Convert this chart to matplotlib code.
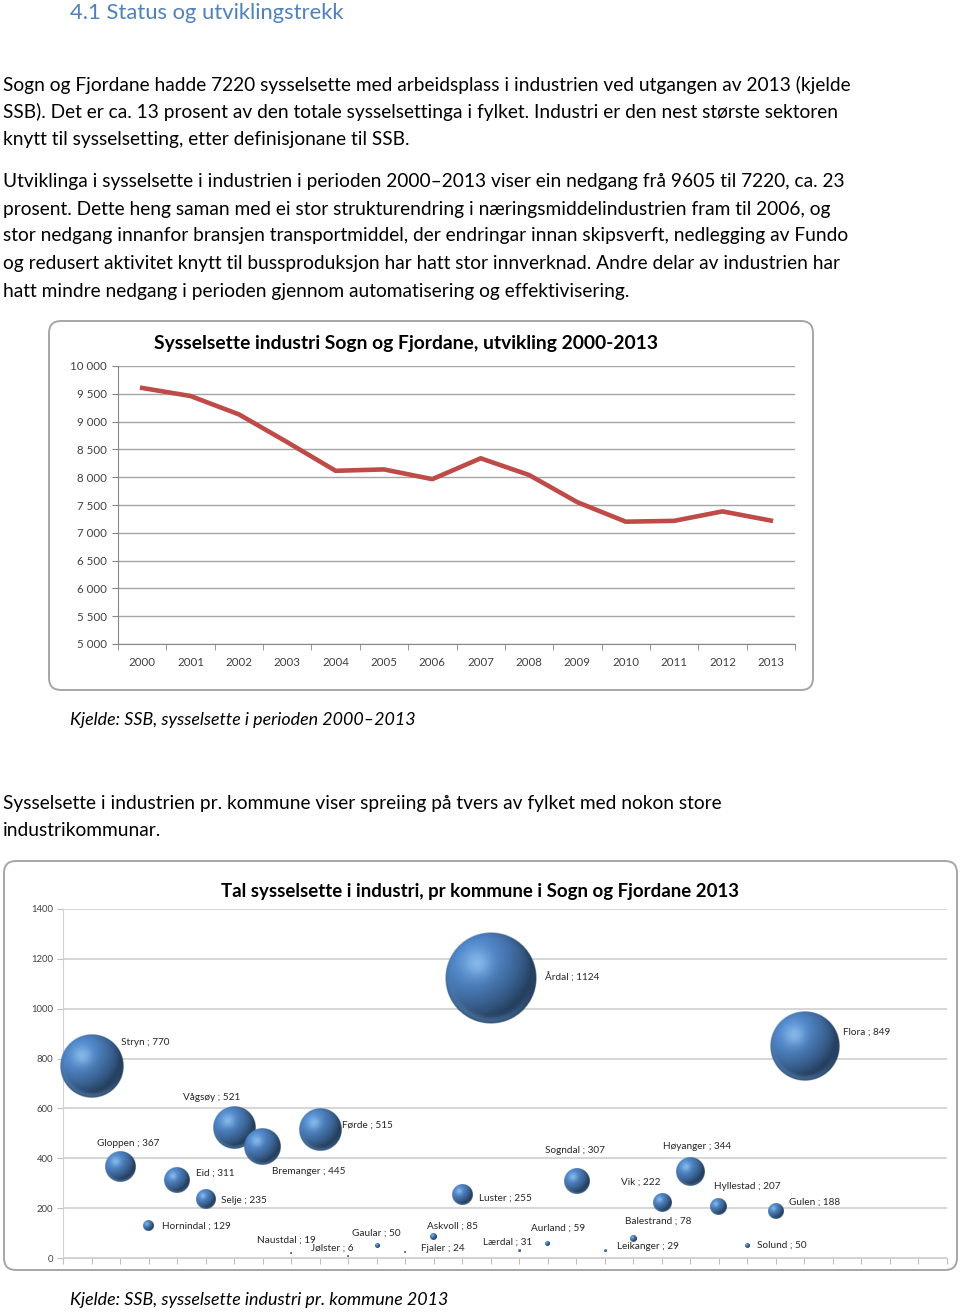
import numpy as np
import matplotlib.pyplot as plt
from matplotlib.patches import FancyBboxPatch
from matplotlib.ticker import FuncFormatter
from matplotlib.colors import to_rgb

plt.rcParams['font.family'] = ['Lato', 'DejaVu Sans']

# ---- data: line chart ----
years = ['2000', '2001', '2002', '2003', '2004', '2005', '2006',
         '2007', '2008', '2009', '2010', '2011', '2012', '2013']
employed = [9605, 9460, 9130, 8630, 8115, 8140, 7965,
            8340, 8040, 7550, 7200, 7215, 7385, 7220]

# ---- data: bubble chart (x = order on axis, y = employed = bubble size) ----
kommune = ['Stryn', 'Gloppen', 'Hornindal', 'Eid', 'Selje', 'Vågsøy', 'Bremanger',
           'Naustdal', 'Førde', 'Jølster', 'Gaular', 'Fjaler', 'Askvoll', 'Luster',
           'Årdal', 'Lærdal', 'Aurland', 'Sogndal', 'Leikanger', 'Balestrand',
           'Vik', 'Høyanger', 'Hyllestad', 'Solund', 'Gulen', 'Flora']
kommune_pos = list(range(1, 27))
kommune_emp = [770, 367, 129, 311, 235, 521, 445, 19, 515, 6, 50, 24, 85, 255,
               1124, 31, 59, 307, 29, 78, 222, 344, 207, 50, 188, 849]

# label offsets in pixels from bubble centre (left edge of text, vertical centre)
label_off = [(29, 24), (-23, 23), (13, 0), (19, 7), (15, -1), (-51, 31), (9, -24),
             (-34, 13), (22, 4), (-37, 8), (-25, 12), (16, 4), (-7, 11), (17, -4),
             (54, 0), (-36, 8), (-17, 15), (-31, 31), (12, 4), (-8, 17),
             (-41, 20), (-27, 26), (-5, 20), (10, 0), (13, 9), (39, 14)]

W, H = 960, 1312
fig = plt.figure(figsize=(W / 100, H / 100), dpi=100)


def fx(px):
    return px / W


def fy(py):
    return 1 - py / H


TXT = '#000000'
BODY = 13.8
CAP = 12.9

fig.text(fx(70), fy(13), '4.1 Status og utviklingstrekk', fontsize=15.8,
         color='#4f81bd', va='center', ha='left')

body = [
    (85, 'Sogn og Fjordane hadde 7220 sysselsette med arbeidsplass i industrien ved utgangen av 2013 (kjelde'),
    (112, 'SSB). Det er ca. 13 prosent av den totale sysselsettinga i fylket. Industri er den nest største sektoren'),
    (139, 'knytt til sysselsetting, etter definisjonane til SSB.'),
    (182, 'Utviklinga i sysselsette i industrien i perioden 2000–2013 viser ein nedgang frå 9605 til 7220, ca. 23'),
    (209, 'prosent. Dette heng saman med ei stor strukturendring i næringsmiddelindustrien fram til 2006, og'),
    (236, 'stor nedgang innanfor bransjen transportmiddel, der endringar innan skipsverft, nedlegging av Fundo'),
    (264, 'og redusert aktivitet knytt til bussproduksjon har hatt stor innverknad. Andre delar av industrien har'),
    (291, 'hatt mindre nedgang i perioden gjennom automatisering og effektivisering.'),
    (804, 'Sysselsette i industrien pr. kommune viser spreiing på tvers av fylket med nokon store'),
    (831, 'industrikommunar.'),
]
for py, s in body:
    fig.text(fx(3), fy(py), s, fontsize=BODY, color=TXT, va='center', ha='left')

fig.text(fx(70), fy(720), 'Kjelde: SSB, sysselsette i perioden 2000–2013',
         fontsize=CAP, style='italic', va='center', ha='left')
fig.text(fx(70), fy(1300), 'Kjelde: SSB, sysselsette industri pr. kommune 2013',
         fontsize=CAP, style='italic', va='center', ha='left')

# chart frames (display pixels), behind the axes
for (x0, y0, x1, y1) in [(49, 321, 813, 690), (4, 861, 957, 1270)]:
    fig.add_artist(FancyBboxPatch((x0, H - y1), x1 - x0, y1 - y0,
                                  boxstyle='round,pad=0,rounding_size=12',
                                  transform=None, fc='white', ec='#a6a6a6', lw=1.4,
                                  zorder=-5))

# ---- line chart ----
ax1 = fig.add_axes([fx(118), fy(644), (795 - 118) / W, (644 - 366) / H])
ax1.patch.set_alpha(0)
ax1.plot(range(len(years)), employed, color='#be4b48', lw=3.3, zorder=3)
ax1.set_xlim(-0.5, len(years) - 0.5)
ax1.set_ylim(5000, 10000)
ax1.set_yticks(np.arange(5000, 10001, 500))
ax1.yaxis.set_major_formatter(FuncFormatter(lambda v, p: f'{v:,.0f}'.replace(',', ' ')))
ax1.set_xticks(range(len(years)))
ax1.set_xticklabels(years)
ax1.set_xticks(np.arange(-0.5, len(years), 1), minor=True)
ax1.tick_params(axis='x', which='major', length=0, pad=9, labelsize=8.3, colors='#404040')
ax1.tick_params(axis='x', which='minor', length=4, color='#868686', direction='out')
ax1.tick_params(axis='y', length=4, color='#868686', pad=4, labelsize=8.3, labelcolor='#404040')
ax1.grid(axis='y', color='#a5a5a5', lw=1.0)
ax1.set_axisbelow(True)
for sp in ['top', 'right']:
    ax1.spines[sp].set_visible(False)
for sp in ['left', 'bottom']:
    ax1.spines[sp].set_color('#868686')
fig.text(fx(406), fy(343), 'Sysselsette industri Sogn og Fjordane, utvikling 2000-2013',
         fontsize=13.85, fontweight='bold', ha='center', va='center')

# ---- bubble chart ----
ax2 = fig.add_axes([fx(63), fy(1258), (947 - 63) / W, (1258 - 909) / H])
ax2.patch.set_alpha(0)
ax2.set_xlim(0, 31)
ax2.set_ylim(0, 1400)
ax2.set_yticks(np.arange(0, 1401, 200))
ax2.set_xticks(np.arange(0, 32, 1))
ax2.set_xticklabels([])
ax2.tick_params(axis='x', length=4, color='#bfbfbf', direction='out')
ax2.tick_params(axis='y', length=4, color='#bfbfbf', pad=3, labelsize=6.8, labelcolor='#404040')
ax2.grid(axis='y', color='#cfcfcf', lw=1.2)
ax2.set_axisbelow(True)
for sp in ['top', 'right']:
    ax2.spines[sp].set_visible(False)
for sp in ['left', 'bottom']:
    ax2.spines[sp].set_color('#d0d0d0')


def sphere_rgba(n=160):
    # simple shaded ball, light from upper left, like the Excel 3D bubble
    v, u = np.mgrid[1:-1:n * 1j, -1:1:n * 1j]
    r = np.sqrt(u ** 2 + v ** 2)
    z = np.sqrt(np.clip(1 - r ** 2, 0, 1))
    L = np.array([-0.45, 0.5, 0.74])
    L = L / np.linalg.norm(L)
    diff = np.clip(u * L[0] + v * L[1] + z * L[2], 0, 1)
    base = np.array(to_rgb('#4c80bf'))
    light = np.array(to_rgb('#a6d3f7'))
    shade = 0.5 + 0.6 * diff
    col = np.clip(base * shade[..., None], 0, 1)
    hl = np.exp(-((u + 0.3) ** 2 + (v - 0.32) ** 2) / 0.09)
    col = col + (light - col) * (0.6 * hl)[..., None]
    rim = np.exp(-((r - 0.92) ** 2) / 0.006) * np.clip(-v - u * 0.3, 0, 1) * 0.45
    col = col + (np.array(to_rgb('#6394cc')) - col) * rim[..., None]
    alpha = np.clip((1 - r) * n / 2, 0, 1)
    return np.dstack([np.clip(col, 0, 1), alpha])


sphere = sphere_rgba()
px_per_emp = 92 / 1124  # bubble width in pixels per employee
inv = ax2.transData.inverted()
for x, val in zip(kommune_pos, kommune_emp):
    rad = max(val * px_per_emp / 2, 0.8)
    cx, cy = ax2.transData.transform((x, val))
    (x0, y0), (x1, y1) = inv.transform([(cx - rad, cy - rad), (cx + rad, cy + rad)])
    ax2.imshow(sphere, extent=(x0, x1, y0, y1), origin='upper', aspect='auto',
               interpolation='bilinear', zorder=3, clip_on=False)

for name, x, val, (dx, dy) in zip(kommune, kommune_pos, kommune_emp, label_off):
    ax2.annotate(f'{name} ; {val}', (x, val), xytext=(dx, dy), textcoords='offset pixels',
                 ha='left', va='center', fontsize=7.2, color='#262626', zorder=4)

ax2.set_xlim(0, 31)
ax2.set_ylim(0, 1400)
fig.text(fx(480), fy(892), 'Tal sysselsette i industri, pr kommune i Sogn og Fjordane 2013',
         fontsize=13.4, fontweight='bold', ha='center', va='center')

fig.savefig('out.png', dpi=100, facecolor='white')
